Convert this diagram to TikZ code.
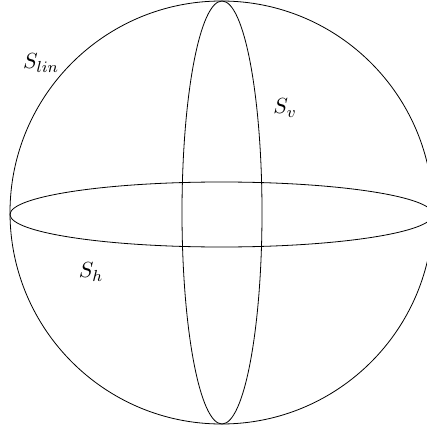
\documentclass[tikz,border=0pt]{standalone}
\begin{document}
\begin{tikzpicture}[x=0.5pt,y=-0.5pt,lbl/.style={font=\fontsize{11}{13}\selectfont}]
\useasboundingbox (0,0) rectangle (427,427);
\begin{scope}
\clip (0,0) rectangle (427,427);
\draw (221.5,212.5) circle[radius=211.5];
\draw (221.5,214.5) ellipse[x radius=211.5,y radius=32.5];
\draw (222,212.5) ellipse[x radius=40,y radius=211.5];
\end{scope}
\node[lbl] (slin) at (41,63) {$S_{lin}$};
\node[lbl] (sv) at (285,108) {$S_v$};
\node[lbl] (sh) at (91,272) {$S_h$};
\end{tikzpicture}
\end{document}
